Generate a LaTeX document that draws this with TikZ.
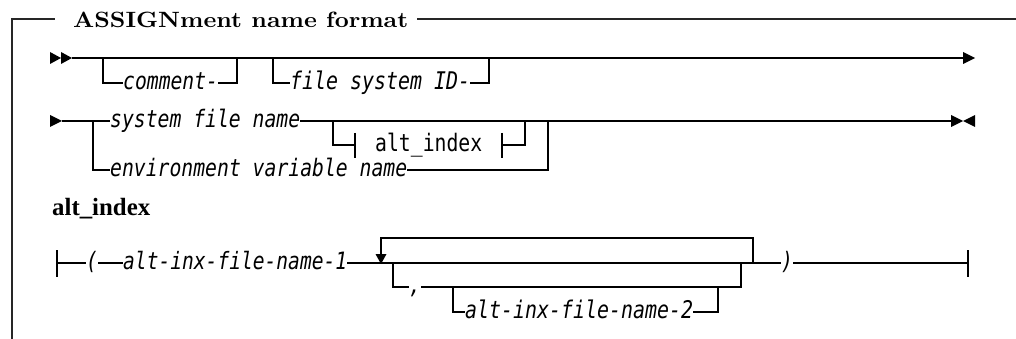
\documentclass[tikz,border=0pt]{standalone}
\usepackage{fontspec}
\newfontfamily\railfont[FakeStretch=0.82]{DejaVu Sans Mono}
\newfontfamily\labfont{Liberation Serif}
\newcommand\railtxt[2]{\resizebox{#1pt}{!}{#2}}
\begin{document}
\begin{tikzpicture}[x=1pt,y=-1pt,
  rail/.style={line width=1.2pt,line cap=butt},
  frame/.style={line width=1.5pt,draw=black!85},
  mono/.style={font=\railfont\fontsize{24}{26}\selectfont\itshape,inner sep=0pt,text height=13pt,text depth=0pt,anchor=west},
  monoup/.style={font=\railfont\fontsize{24}{26}\selectfont,inner sep=0pt,text height=13pt,text depth=0pt,anchor=west},
  boldlab/.style={font=\bfseries,inner sep=0pt,anchor=base west},
  tip/.style={fill=black}
]
\useasboundingbox (0,0) rectangle (1016,339);
% frame and title
\node[boldlab] (title) at (73,28) {\resizebox{335pt}{15.5pt}{ASSIGNment name format}};
\coordinate (fbl) at (12,339);
\coordinate (ftl) at (12,19);
\coordinate (ft1) at (55,19);
\coordinate (ft2) at (417,19);
\coordinate (ftr) at (1016,19);
\draw[frame] (fbl) -- (ftl) -- (ft1);
\draw[frame] (ft2) -- (ftr);

% ---------- row 1 ----------
\coordinate (r1s) at (72,58);
\coordinate (r1e) at (964,58);
\fill[tip] (50,52) -- (61,58) -- (50,64) -- cycle;
\fill[tip] (61,52) -- (72,58) -- (61,64) -- cycle;
\draw[rail] (r1s) -- (r1e);
\fill[tip] (963,52) -- (975,58) -- (963,64) -- cycle;
\node[mono] (comment) at (123,83) {\railtxt{94.8}{comment-}};
\node[mono] (fsid) at (290,83) {\railtxt{180}{file system ID-}};
\coordinate (c1a) at (103,58); \coordinate (c1b) at (103,83);
\coordinate (c1c) at (237,83); \coordinate (c1d) at (237,58);
\draw[rail] (c1a) -- (c1b) -- (comment.west);
\draw[rail] (comment.east) -- (c1c) -- (c1d);
\coordinate (f1a) at (273,58); \coordinate (f1b) at (273,83);
\coordinate (f1c) at (489,83); \coordinate (f1d) at (489,58);
\draw[rail] (f1a) -- (f1b) -- (fsid.west);
\draw[rail] (fsid.east) -- (f1c) -- (f1d);

% ---------- row 2 ----------
\fill[tip] (50,115) -- (62,121) -- (50,127) -- cycle;
\coordinate (r2s) at (62,121);
\node[mono] (sysf) at (110,121) {\railtxt{190}{system file name}};
\node[mono] (env) at (110,170) {\railtxt{297}{environment variable name}};
\coordinate (r2e) at (951,121);
\draw[rail] (r2s) -- (sysf.west);
\draw[rail] (sysf.east) -- (r2e);
\coordinate (v2a) at (93,121); \coordinate (v2b) at (93,170);
\draw[rail] (v2a) -- (v2b) -- (env.west);
\coordinate (e2a) at (548,170); \coordinate (e2b) at (548,121);
\draw[rail] (env.east) -- (e2a) -- (e2b);
% alt_index reference
\node[monoup] (altref) at (375,145) {\railtxt{107}{alt\_index}};
\coordinate (a2a) at (333,121); \coordinate (a2b) at (333,145);
\coordinate (barl) at (355,145); \coordinate (barr) at (502,145);
\coordinate (a2c) at (525,145); \coordinate (a2d) at (525,121);
\draw[rail] (a2a) -- (a2b) -- (barl);
\draw[rail] (barl |- 0,133) -- (barl |- 0,158);
\draw[rail] (barr |- 0,133) -- (barr |- 0,158);
\draw[rail] (barr) -- (a2c) -- (a2d);
\fill[tip] (951,115) -- (963,121) -- (951,127) -- cycle;
\fill[tip] (975,115) -- (963,121) -- (975,127) -- cycle;

% ---------- alt_index ----------
\node[boldlab] (altlab) at (52,215) {\resizebox{98pt}{!}{\labfont\bfseries\fontsize{24.8}{26}\selectfont alt\_index}};
\coordinate (r3s) at (57,263);
\draw[rail] (57,250) -- (57,277);
\node[mono] (lp) at (86,263) {\railtxt{11.85}{(}};
\node[mono] (alt1) at (123,263) {\railtxt{224}{alt-inx-file-name-1}};
\node[mono] (rp) at (781,263) {\railtxt{11.85}{)}};
\coordinate (r3e) at (968,263);
\draw[rail] (r3s) -- (lp.west);
\draw[rail] (lp.east) -- (alt1.west);
\draw[rail] (alt1.east) -- (rp.west);
\draw[rail] (rp.east) -- (r3e);
\draw[rail] (968,250) -- (968,277);
% repeat loop
\coordinate (l1) at (753,263); \coordinate (l2) at (753,238);
\coordinate (l3) at (381,238); \coordinate (l4) at (381,255);
\draw[rail] (l1) -- (l2) -- (l3) -- (l4);
\fill[tip] (375.5,254) -- (386.5,254) -- (381,264) -- cycle;
% optional comma
\node[mono] (comma) at (409,287) {\railtxt{11.85}{,}};
\coordinate (o1) at (393,263); \coordinate (o2) at (393,287);
\coordinate (o3) at (741,287); \coordinate (o4) at (741,263);
\draw[rail] (o1) -- (o2) -- (comma.west);
\draw[rail] (comma.east) -- (o3) -- (o4);
% optional name 2
\node[mono] (alt2) at (465,312) {\railtxt{228}{alt-inx-file-name-2}};
\coordinate (i1) at (453,287); \coordinate (i2) at (453,312);
\coordinate (i3) at (718,312); \coordinate (i4) at (718,287);
\draw[rail] (i1) -- (i2) -- (alt2.west);
\draw[rail] (alt2.east) -- (i3) -- (i4);
\end{tikzpicture}
\end{document}
